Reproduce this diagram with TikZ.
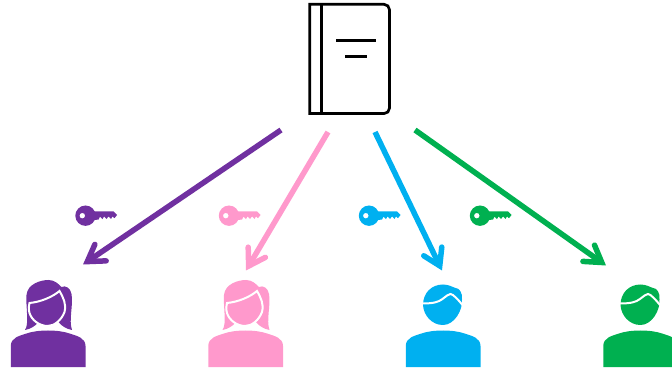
\documentclass[tikz,border=0pt]{standalone}
\usetikzlibrary{arrows.meta}
\definecolor{cpurple}{HTML}{7030A0}
\definecolor{cpink}{HTML}{FF99CC}
\definecolor{cblue}{HTML}{00B0F0}
\definecolor{cgreen}{HTML}{00B050}
\newcommand{\bodypath}{(0.3,87) -- (0.3,66) .. controls (0.3,58) and (8,56) .. (16,53.5)
      .. controls (27,49.5) and (48,49.5) .. (59,53.5) .. controls (67,56) and (75,58) .. (75,66) -- (75,87) -- cycle}
\tikzset{
  conn/.style={line width=5.5pt,-{Straight Barb[length=16pt,width=20pt,line width=5.5pt,line cap=round,line join=miter]}},
  bookline/.style={line width=2.7pt,black},
  woman/.pic={
    \fill[pic actions] \bodypath;
    \fill[pic actions] (14.5,50) .. controls (19,44) and (15,25) .. (16,15)
      .. controls (17,4) and (30,0) .. (38,0) .. controls (44,0) and (48,4) .. (51,7)
      .. controls (55,5) and (60,8) .. (61,14) .. controls (63,25) and (58,40) .. (61.5,50)
      .. controls (56,49) and (51,46) .. (48,42) -- (28,42) .. controls (25,46) and (20,49) .. (14.5,50) -- cycle;
    \filldraw[pic actions,draw=white,line width=2pt] (19,23) .. controls (30,22) and (42,17) .. (49,11)
      .. controls (53,18) and (56,24) .. (54,32) .. controls (51,40) and (44,46) .. (37,46)
      .. controls (29,46) and (21,40) .. (19,33) .. controls (18,29) and (18,26) .. (19,23) -- cycle;
  },
  man/.pic={
    \fill[pic actions] \bodypath;
    \fill[pic actions] (37.5,4.5) .. controls (43,4.5) and (47,7) .. (50,8)
      .. controls (54,8) and (57,13) .. (56.5,19) .. controls (57.5,30) and (49,45) .. (37.5,45)
      .. controls (26,45) and (18,35) .. (17.5,25) .. controls (17.5,13) and (26,4.5) .. (37.5,4.5) -- cycle;
    \draw[white,line width=2pt] (17,23.5) .. controls (28,23.5) and (33,22) .. (37,19)
      .. controls (41,16) and (43,14) .. (45,14) .. controls (47.5,14) and (53,20) .. (57,25);
  },
  key/.pic={
    \fill[pic actions,even odd rule] (0,0) circle[radius=10.2pt] (-3.2,0) circle[radius=2.8pt];
    \fill[pic actions] (6,-4.2) -- (28,-4.2) -- (31.5,-0.7) -- (29,2.5) -- (27,0.8) -- (25.5,3.2) -- (23,0.8) -- (21,3.2) -- (18.5,0.8) -- (17,3.4) -- (14.5,0.8) -- (13,4) -- (6,4.2) -- cycle;
  }
}
\begin{document}
\begin{tikzpicture}[x=1pt,y=-1pt]
\useasboundingbox (0,0) rectangle (672,371);
\clip (0,0) rectangle (672,371);
\draw[line width=2.7pt] (321.3,4.3) [rounded corners=5.5pt] -- (389.5,4.3) -- (389.5,113.6) [sharp corners] -- (309.8,113.6) -- (309.8,4.3) -- cycle;
\draw[bookline] (321.3,4.3) -- (321.3,113.6);
\draw[bookline] (336,40.7) -- (376,40.7);
\draw[bookline] (345,56.2) -- (367,56.2);
\coordinate (bp) at (281,130);
\coordinate (bk) at (328,132);
\coordinate (bb) at (375,132);
\coordinate (bg) at (415,130);
\coordinate (p1) at (83,264.5);
\coordinate (p2) at (246,270.5);
\coordinate (p3) at (442,270.5);
\coordinate (p4) at (606,265.5);
\draw[conn,cpurple] (bp) -- (p1);
\draw[conn,cpink] (bk) -- (p2);
\draw[conn,cblue] (bb) -- (p3);
\draw[conn,cgreen] (bg) -- (p4);
\pic[fill=cpurple] at (85.5,215.7) {key};
\pic[fill=cpink] at (229,215.7) {key};
\pic[fill=cblue] at (369,215.7) {key};
\pic[fill=cgreen] at (480,215.7) {key};
\pic[fill=cpurple] at (10.5,280) {woman};
\pic[fill=cpink] at (208,280) {woman};
\pic[fill=cblue] at (405.5,280) {man};
\pic[fill=cgreen] at (603,280) {man};
\end{tikzpicture}
\end{document}
